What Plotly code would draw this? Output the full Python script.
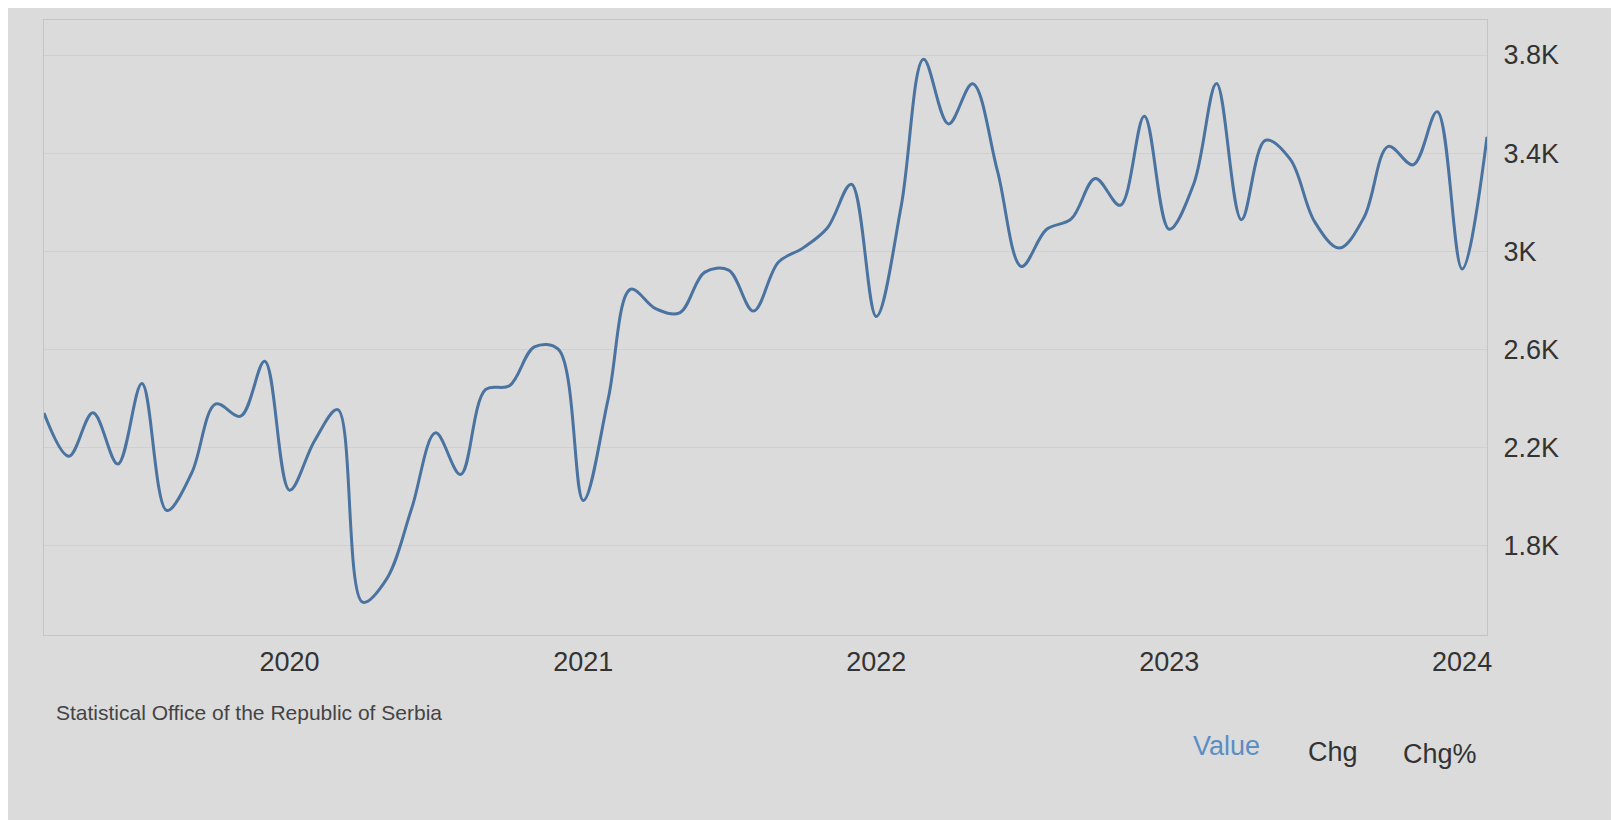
import plotly.graph_objects as go
import pandas as pd

# ---- data ----
start_month = "2019-03-01"
values = [
    2339, 2163, 2340, 2131, 2459, 1941, 2094, 2376, 2326, 2550,   # Mar19 - Dec19
    2024, 2225, 2353, 1567, 1662, 1948, 2258, 2088, 2434, 2450, 2609, 2599,  # 2020
    1982, 2397, 2844, 2765, 2748, 2913, 2922, 2755, 2954, 3011, 3094, 3273,  # 2021
    2733, 3182, 3783, 3519, 3683, 3327, 2937, 3088, 3131, 3296, 3187, 3550,  # 2022
    3089, 3278, 3684, 3128, 3452, 3374, 3121, 3012, 3139, 3427, 3352, 3569,  # 2023
    2927, 3466,                                                              # 2024
]
dates = pd.date_range(start_month, periods=len(values), freq="MS")

x_tick_vals = ["2020-01-01", "2021-01-01", "2022-01-01", "2023-01-01", "2024-01-01"]
x_tick_text = ["2020", "2021", "2022", "2023", "2024"]
y_tick_vals = [1800, 2200, 2600, 3000, 3400, 3800]
y_tick_text = ["1.8K", "2.2K", "2.6K", "3K", "3.4K", "3.8K"]
source_text = "Statistical Office of the Republic of Serbia"
legend_items = ["Value", "Chg", "Chg%"]

# ---- layout geometry (page body adds an 8px offset) ----
OFF = 8
W, H = 1619, 820
L, R, T, B = 36, 140, 12, 193
PW, PH = W - L - R, H - T - B

def px_x(px):
    return (px - OFF - L) / PW

def px_y(py):
    return (H - B - (py - OFF)) / PH

BG = "#dbdbdb"
FONT = "Liberation Sans, Arial, sans-serif"

fig = go.Figure()
fig.add_trace(go.Scatter(
    x=dates, y=values, mode="lines",
    line=dict(color="#4a73a0", width=3, shape="spline", smoothing=1.0),
    hoverinfo="x+y", showlegend=False,
))

fig.update_layout(
    width=W, height=H,
    margin=dict(l=L, r=R, t=T, b=B),
    paper_bgcolor=BG, plot_bgcolor=BG,
    font=dict(family=FONT, color="#333333"),
    xaxis=dict(
        type="date", range=[dates[0], dates[-1]],
        tickvals=x_tick_vals, ticktext=x_tick_text,
        tickfont=dict(size=27, color="#333333"),
        showgrid=False, zeroline=False, ticks="",
        showline=True, linecolor="#c4c4c4", linewidth=1, mirror=True,
        ticklabelstandoff=3,
    ),
    yaxis=dict(
        side="right", range=[1433, 3943],
        tickvals=y_tick_vals, ticktext=y_tick_text,
        tickfont=dict(size=27, color="#333333"),
        showgrid=True, gridcolor="#d0d0d0", gridwidth=1,
        zeroline=False, ticks="",
        showline=True, linecolor="#c4c4c4", linewidth=1, mirror=True,
        ticklabelstandoff=10,
    ),
    annotations=[
        dict(text=source_text, xref="paper", yref="paper",
             x=px_x(54), y=px_y(712), xanchor="left", yanchor="middle",
             showarrow=False, font=dict(size=21, color="#444444", family=FONT)),
        dict(text=legend_items[0], xref="paper", yref="paper",
             x=px_x(1226), y=px_y(746), xanchor="center", yanchor="middle",
             showarrow=False, font=dict(size=27, color="#5b8ec4", family=FONT)),
        dict(text=legend_items[1], xref="paper", yref="paper",
             x=px_x(1333), y=px_y(752), xanchor="center", yanchor="middle",
             showarrow=False, font=dict(size=27, color="#333333", family=FONT)),
        dict(text=legend_items[2], xref="paper", yref="paper",
             x=px_x(1440), y=px_y(754), xanchor="center", yanchor="middle",
             showarrow=False, font=dict(size=27, color="#333333", family=FONT)),
    ],
)

fig.write_html("out.html")
